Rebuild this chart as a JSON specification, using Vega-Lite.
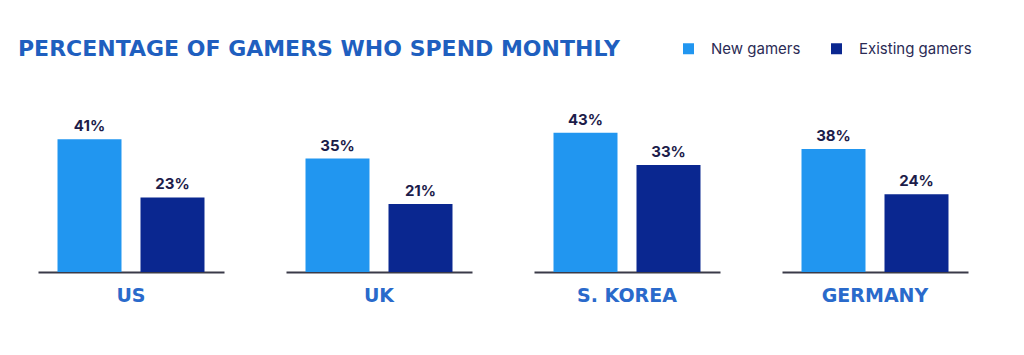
{
  "$schema": "https://vega.github.io/schema/vega-lite/v6.json",
  "background": "white",
  "padding": {"left": 18, "top": 38, "right": 0, "bottom": 0},
  "title": {
    "text": "PERCENTAGE OF GAMERS WHO SPEND MONTHLY",
    "anchor": "start",
    "dx": -20,
    "offset": -20,
    "font": "DejaVu Sans",
    "fontSize": 22,
    "fontWeight": "bold",
    "color": "#1f5fbf"
  },
  "data": {
    "values": [
      {"country": "US", "type": "New gamers", "value": 0.41},
      {"country": "US", "type": "Existing gamers", "value": 0.23},
      {"country": "UK", "type": "New gamers", "value": 0.35},
      {"country": "UK", "type": "Existing gamers", "value": 0.21},
      {"country": "S. KOREA", "type": "New gamers", "value": 0.43},
      {"country": "S. KOREA", "type": "Existing gamers", "value": 0.33},
      {"country": "GERMANY", "type": "New gamers", "value": 0.38},
      {"country": "GERMANY", "type": "Existing gamers", "value": 0.24}
    ]
  },
  "facet": {
    "column": {
      "field": "country",
      "type": "nominal",
      "sort": ["US", "UK", "S. KOREA", "GERMANY"],
      "header": {
        "title": null,
        "labelOrient": "bottom",
        "labelFont": "DejaVu Sans",
        "labelFontSize": 19,
        "labelFontWeight": "bold",
        "labelColor": "#2a6acb",
        "labelPadding": 15
      }
    }
  },
  "spacing": 62,
  "spec": {
    "width": 186,
    "height": 162,
    "encoding": {
      "x": {
        "field": "type",
        "type": "nominal",
        "sort": ["New gamers", "Existing gamers"],
        "scale": {"paddingInner": 0.229, "paddingOuter": 0.235},
        "axis": {
          "title": null,
          "labels": false,
          "ticks": false,
          "domain": true,
          "domainColor": "#3a3a48",
          "domainWidth": 2
        }
      },
      "y": {
        "field": "value",
        "type": "quantitative",
        "scale": {"domain": [0, 0.5]},
        "axis": null
      }
    },
    "layer": [
      {
        "mark": {"type": "bar"},
        "encoding": {
          "color": {
            "field": "type",
            "type": "nominal",
            "scale": {
              "domain": ["New gamers", "Existing gamers"],
              "range": ["#2196f0", "#0a2790"]
            },
            "legend": {
              "title": null,
              "orient": "none",
              "direction": "horizontal",
              "legendX": 643,
              "legendY": -69,
              "symbolType": "square",
              "symbolSize": 121,
              "symbolStrokeWidth": 0,
              "labelFont": "Inter",
              "labelFontSize": 15,
              "labelColor": "#2b2b55",
              "labelOffset": 15,
              "columnPadding": 28
            }
          }
        }
      },
      {
        "mark": {
          "type": "text",
          "baseline": "bottom",
          "dy": -5,
          "font": "Inter",
          "fontSize": 15,
          "fontWeight": "bold",
          "color": "#1c1c4a"
        },
        "encoding": {
          "text": {"field": "value", "type": "quantitative", "format": ".0%"}
        }
      }
    ]
  },
  "config": {
    "view": {"stroke": null}
  }
}
